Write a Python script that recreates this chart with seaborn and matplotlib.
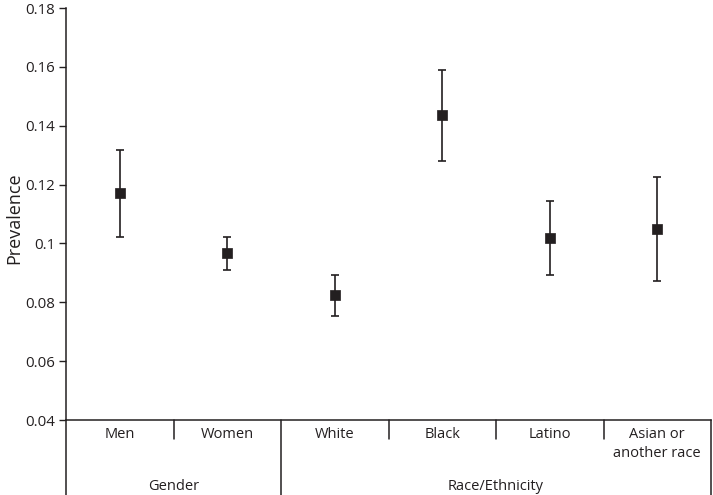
import matplotlib
matplotlib.use("Agg")
import matplotlib.pyplot as plt
import matplotlib.transforms as mtransforms
from matplotlib.ticker import FuncFormatter
import seaborn as sns
import pandas as pd

# values
categories = ["Men", "Women", "White", "Black", "Latino", "Asian or\nanother race"]
prevalence = [0.117, 0.0968, 0.0824, 0.1435, 0.1019, 0.105]
ci_low = [0.1022, 0.0911, 0.0755, 0.1279, 0.0894, 0.0873]
ci_high = [0.1317, 0.1022, 0.0892, 0.1589, 0.1144, 0.1225]
groups = ["Gender", "Race/Ethnicity"]
group_sizes = [2, 4]
yticks = [0.04, 0.06, 0.08, 0.1, 0.12, 0.14, 0.16, 0.18]

ink = "#231f20"

sns.set_style("ticks")
plt.rcParams["font.family"] = ["Open Sans", "DejaVu Sans"]

df = pd.DataFrame({"category": categories, "prevalence": prevalence,
                   "low": ci_low, "high": ci_high})

fig = plt.figure(figsize=(7.13, 4.95), dpi=100)
ax = fig.add_axes([66 / 713, 1 - 420 / 495, (711 - 66) / 713, (420 - 8) / 495])

xpos = list(range(len(df)))
ax.errorbar(xpos, df["prevalence"],
            yerr=[df["prevalence"] - df["low"], df["high"] - df["prevalence"]],
            fmt="none", ecolor=ink, elinewidth=1.2, capsize=3, capthick=1.2, zorder=2)
sns.scatterplot(data=df, x="category", y="prevalence", marker="s", s=58,
                color=ink, edgecolor=ink, linewidth=0.5, ax=ax, zorder=3, legend=False)

ax.set_xlim(-0.5, len(df) - 0.5)
ax.set_ylim(0.04, 0.18)
ax.set_yticks(yticks)
ax.yaxis.set_major_formatter(FuncFormatter(lambda v, p: f"{v:g}"))
ax.set_xticks([])
ax.set_xlabel("")
ax.set_ylabel("Prevalence", fontsize=13, color=ink)
ax.yaxis.set_label_coords(-0.067, 0.49)
ax.tick_params(axis="y", direction="out", length=5, width=1, color=ink,
               labelsize=10.8, labelcolor=ink, pad=3)

for s in ["top", "right"]:
    ax.spines[s].set_visible(False)
for s in ["left", "bottom"]:
    ax.spines[s].set_color(ink)
    ax.spines[s].set_linewidth(1.1)

# category table under the axis
tr = mtransforms.blended_transform_factory(ax.transData, fig.transFigure)
y_top = 1 - 420 / 495
y_short = 1 - 439 / 495
y_bot = 0.0

for i, cat in enumerate(categories):
    ax.text(i, 1 - 427 / 495, cat, transform=tr, ha="center", va="top",
            fontsize=10.5, color=ink, linespacing=1.4)

edges = [-0.5]
for n in group_sizes:
    edges.append(edges[-1] + n)
for x in edges:
    ax.plot([x, x], [y_top, y_bot], transform=tr, color=ink, lw=1.1, clip_on=False)
for i in range(len(categories) - 1):
    x = i + 0.5
    if x not in edges:
        ax.plot([x, x], [y_top, y_short], transform=tr, color=ink, lw=1.1, clip_on=False)

for g, a, b in zip(groups, edges[:-1], edges[1:]):
    ax.text((a + b) / 2, 1 - 486 / 495, g, transform=tr, ha="center", va="center",
            fontsize=10.5, color=ink)

fig.savefig("out.png", dpi=100)
